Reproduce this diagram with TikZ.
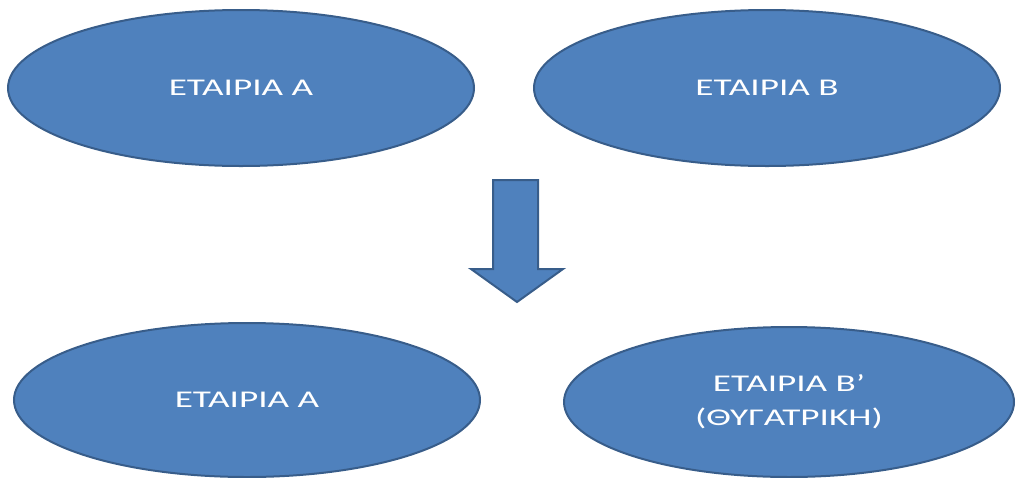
\documentclass[tikz,border=0pt]{standalone}
\usepackage{fontspec}
\setmainfont{Carlito}[FakeStretch=1.55]
\usetikzlibrary{shapes.geometric}
\definecolor{etblue}{HTML}{4F81BD}
\definecolor{etedge}{HTML}{385D8A}
\tikzset{etairia/.style={ellipse,draw=etedge,fill=etblue,line width=1pt,text=white,
    minimum height=78pt,align=center,font=\fontsize{12}{17}\selectfont}}
\begin{document}
\begin{tikzpicture}[x=0.5pt,y=-0.5pt]
    \useasboundingbox (0,0) rectangle (1017,477);
    \node[etairia,minimum width=233pt] (a1) at (241,88) {ΕΤΑΙΡΙΑ Α};
    \node[etairia,minimum width=233pt] (b1) at (767,88) {ΕΤΑΙΡΙΑ Β};
    \node[etairia,minimum width=233pt,minimum height=77pt] (a2) at (247,400) {ΕΤΑΙΡΙΑ Α};
    \node[etairia,minimum width=225pt,minimum height=75pt] (b2) at (789,402) {ΕΤΑΙΡΙΑ Β’\\(ΘΥΓΑΤΡΙΚΗ)};
    \draw[etedge,fill=etblue,line width=1pt] (493,180) -- (538,180) -- (538,269) -- (563,269)
        -- (517,302) -- (471,269) -- (493,269) -- cycle;
\end{tikzpicture}
\end{document}
